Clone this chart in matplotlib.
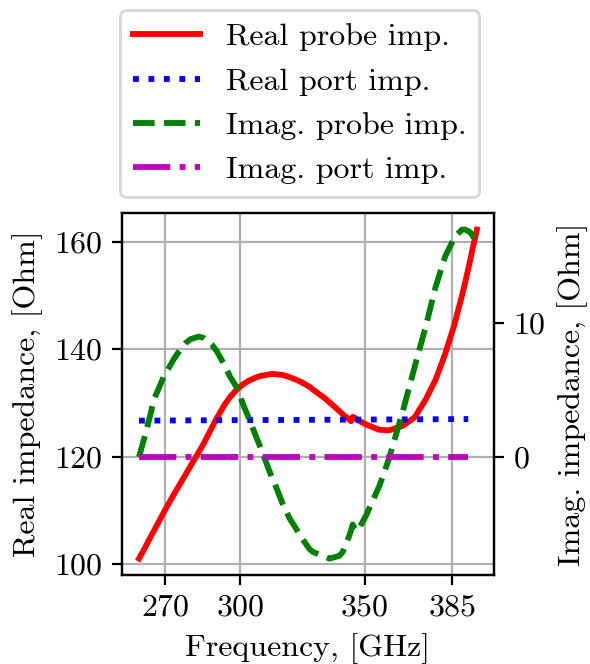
import matplotlib
matplotlib.use("Agg")
import matplotlib.pyplot as plt

# probe impedance
freq_probe = [259.5, 262.2, 264.1, 265.5, 269.4, 273.4, 274.8, 278.1, 280.1, 283.4,
              285.4, 288.7, 290.7, 294.0, 296.0, 298.7, 301.3, 303.3, 306.7, 308.0,
              312.6, 313.3, 317.3, 319.9, 322.6, 324.5, 327.9, 329.2, 334.5, 335.9,
              339.8, 341.2, 343.8, 344.5, 345.2, 345.8, 347.1, 350.5, 355.8, 359.8,
              360.4, 365.1, 369.7, 370.4, 374.4, 378.4, 382.3, 385.7, 386.3, 389.0,
              390.3, 392.3, 393.0, 395.0]
real_probe = [101.0, 103.3, 105.0, 106.2, 109.6, 112.9, 114.0, 116.6, 118.2, 120.8,
              122.4, 125.4, 127.2, 129.8, 131.1, 132.5, 133.5, 134.1, 134.8, 135.0,
              135.4, 135.4, 135.2, 134.8, 134.3, 133.9, 133.0, 132.5, 130.7, 130.1,
              128.5, 127.9, 126.9, 126.6, 127.4, 127.3, 126.8, 126.0, 125.0, 124.9,
              125.0, 125.7, 127.2, 127.6, 130.6, 134.3, 139.2, 144.2, 145.2, 150.0,
              152.5, 156.6, 158.2, 162.3]
imag_probe = [0.0, 1.8, 3.2, 4.3, 6.0, 7.3, 7.7, 8.5, 8.8, 9.0,
              8.9, 8.4, 7.9, 6.8, 6.0, 5.2, 3.9, 3.0, 1.4, 0.8,
              -1.45, -1.7, -3.6, -4.6, -5.4, -6.0, -6.9, -7.1, -7.5, -7.6,
              -7.4, -7.1, -5.9, -5.5, -5.05, -5.3, -5.55, -4.4, -2.2, -0.1,
              0.3, 3.3, 6.5, 7.0, 9.7, 12.7, 15.0, 16.3, 16.5, 17.0,
              17.0, 16.8, 16.6, 16.1]

# port impedance
freq_port = [259.5, 300.0, 350.0, 391.5]
real_port = [126.7, 126.8, 126.9, 127.0]
imag_port = [0.0, 0.0, 0.0, 0.0]

x_ticks = [270, 300, 350, 385]
real_ticks = [100, 120, 140, 160]
imag_ticks = [0, 10]

plt.rcParams["font.family"] = "serif"
plt.rcParams["font.serif"] = ["cmr10"]
plt.rcParams["mathtext.fontset"] = "cm"
plt.rcParams["axes.formatter.use_mathtext"] = True
plt.rcParams["font.size"] = 11.5

fig, ax = plt.subplots(figsize=(2.95, 3.32), dpi=200)
fig.subplots_adjust(left=0.207, right=0.837, top=0.679, bottom=0.134)
ax2 = ax.twinx()

lw = 2.1
l1, = ax.plot(freq_probe, real_probe, color="r", lw=lw, label="Real probe imp.")
l2, = ax.plot(freq_port, real_port, color="b", lw=lw, ls=":", label="Real port imp.")
l3, = ax2.plot(freq_probe, imag_probe, color="g", lw=lw, ls="--", label="Imag. probe imp.")
l4, = ax2.plot(freq_port, imag_port, color="m", lw=lw, ls="-.", label="Imag. port imp.")

ax.set_xticks(x_ticks)
ax.set_yticks(real_ticks)
ax2.set_yticks(imag_ticks)
ax.grid(True)

ax.set_xlabel("Frequency, [GHz]")
ax.set_ylabel("Real impedance, [Ohm]")
ax2.set_ylabel("Imag. impedance, [Ohm]")

ax.legend(handles=[l1, l2, l3, l4], loc="lower center",
          bbox_to_anchor=(0.478, 1.0), handlelength=2.1)

fig.savefig("out.png", dpi=200)
